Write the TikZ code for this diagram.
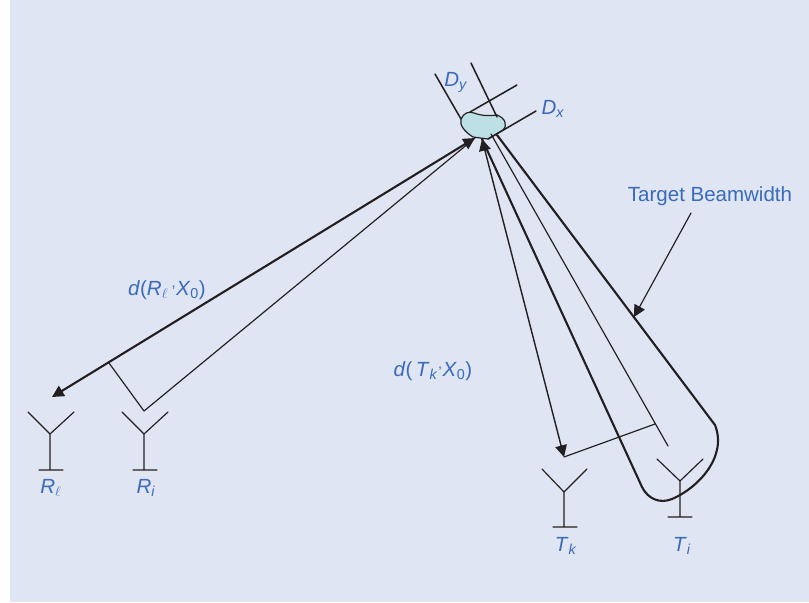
\documentclass[tikz,border=0pt]{standalone}
\usepackage{fontspec}
\setmainfont{Liberation Sans}
\usepackage{xcolor}
\usetikzlibrary{arrows.meta}
\definecolor{panelbg}{HTML}{DFE5F3}
\definecolor{labelblue}{HTML}{3A6BB8}
\definecolor{blobfill}{HTML}{BCE0E6}
\definecolor{inkline}{HTML}{231F20}
\tikzset{
  thinline/.style={line width=1.0pt, inkline},
  boldline/.style={line width=1.8pt, inkline},
  wirelabel/.style={text=labelblue, font=\fontsize{17.5}{20}\selectfont, inner sep=0pt},
  headtip/.style={-{Triangle[length=10pt,width=10pt]}},
  twotips/.style={{Triangle[length=10pt,width=10pt]}-{Triangle[length=10pt,width=10pt]}}
}
\begin{document}
\begin{tikzpicture}[x=0.03cm, y=-0.03cm, line join=round, line cap=round]
  \useasboundingbox (0,0) rectangle (809,602);
  % ========================================================
  % 0. BACKGROUND PANEL
  % ========================================================
  \fill[panelbg] (10,0) rectangle (809,602);

  % ========================================================
  % 1. COORDINATE DEFINITIONS
  % ========================================================
  % Target end of the rays
  \coordinate (TargetL) at (475,138);
  \coordinate (TargetR) at (482,139);
  \coordinate (TargetM) at (491,134);

  % Ray ends near the antennas
  \coordinate (RayRl) at (52,397);
  \coordinate (KneeRl) at (109,363);
  \coordinate (KneeRi) at (144,411);
  \coordinate (RayTk) at (564,457);
  \coordinate (KneeTi) at (655,424);
  \coordinate (EndTi) at (668,446);

  % Beam outline
  \coordinate (BeamL) at (642,487);
  \coordinate (BeamR) at (715,425);
  \coordinate (BeamTop) at (497,135);

  % Arrow to the beam
  \coordinate (NoteFoot) at (691,213);
  \coordinate (NoteTip) at (634,317);

  % ========================================================
  % 2. TARGET PATCH AND ITS DIMENSION LINES
  % ========================================================
  \draw[thinline, fill=blobfill] (461,119) .. controls (464,113) and (468,111) .. (474,113)
    .. controls (482,116) and (490,116) .. (497,115)
    .. controls (505,118) and (508,125) .. (503,130)
    -- (488,139) -- (473,137)
    .. controls (465,132) and (459,125) .. (461,119);

  \coordinate (DyA) at (435,74);
  \coordinate (DyB) at (461,119);
  \coordinate (DyC) at (471,63);
  \coordinate (DyD) at (497,117);
  \coordinate (DxA) at (517,85);
  \coordinate (DxB) at (470,112);
  \coordinate (DxC) at (536,111);
  \coordinate (DxD) at (488,139);
  \draw[thinline, line width=1.3pt] (DyA) -- (DyB);
  \draw[thinline, line width=1.3pt] (DyC) -- (DyD);
  \draw[thinline, line width=1.3pt] (DxA) -- (DxB);
  \draw[thinline, line width=1.3pt] (DxC) -- (DxD);

  % ========================================================
  % 3. RAYS
  % ========================================================
  \draw[boldline, twotips] (TargetL) -- (RayRl);
  \draw[thinline] (KneeRl) -- (KneeRi) -- (TargetL);
  \draw[thinline, line width=1.2pt, twotips] (TargetR) -- (RayTk);
  \draw[thinline] (RayTk) -- (KneeTi);
  \draw[thinline] (TargetM) -- (EndTi);

  % ========================================================
  % 4. BEAM OUTLINE
  % ========================================================
  \draw[boldline] (TargetR) -- (BeamL)
    .. controls (648,499) and (660,504) .. (672,499)
    .. controls (696,489) and (728,458) .. (BeamR) -- (BeamTop);
  \draw[thinline, headtip] (NoteFoot) -- (NoteTip);

  % ========================================================
  % 5. ANTENNAS
  % ========================================================
  \draw[thinline] (28,412) -- (50,434) -- (74,412) (50,434) -- (50,470) (39,470) -- (63,470);
  \draw[thinline] (122,412) -- (144,434) -- (168,412) (144,434) -- (144,470) (133,470) -- (157,470);
  \draw[thinline] (542,469) -- (564,492) -- (587,469) (564,492) -- (564,527) (553,527) -- (577,527);
  \draw[thinline] (657,459) -- (680,481) -- (703,459) (680,481) -- (680,517) (668,517) -- (692,517);

  % ========================================================
  % 6. LABELS
  % ========================================================
  \node[wirelabel] (LabelDy) at (456,82) {\textit{D}\textsubscript{\textit{y}}};
  \node[wirelabel] (LabelDx) at (553,109) {\textit{D}\textsubscript{\textit{x}}};
  \node[wirelabel] (LabelBeam) at (710,196) {Target Beamwidth};
  \node[wirelabel] (LabelDR) at (167,290) {\textit{d}(\textit{R}$_{\ell}$\,\textsuperscript{,}\textit{X}\textsubscript{0})};
  \node[wirelabel] (LabelDT) at (433,371) {\textit{d}(\,\textit{T}\textsubscript{\textit{k}}\textsuperscript{,}\textit{X}\textsubscript{0})};
  \node[wirelabel] (LabelRl) at (51,488) {\textit{R}$_{\ell}$};
  \node[wirelabel] (LabelRi) at (146,488) {\textit{R}\textsubscript{\textit{i}}};
  \node[wirelabel] (LabelTk) at (566,546) {\textit{T}\textsubscript{\textit{k}}};
  \node[wirelabel] (LabelTi) at (682,546) {\textit{T}\textsubscript{\textit{i}}};
\end{tikzpicture}
\end{document}
